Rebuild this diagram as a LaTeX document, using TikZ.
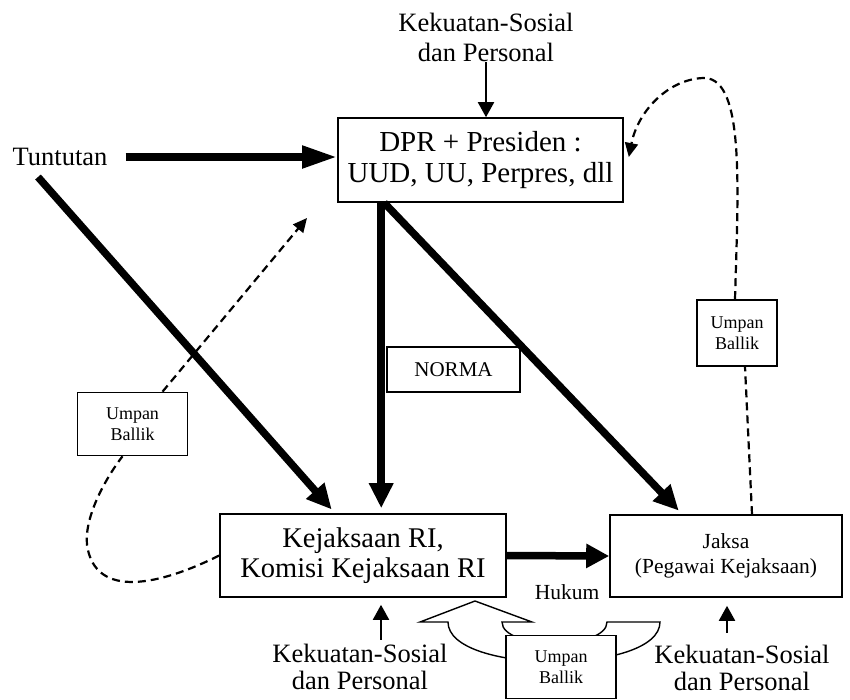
\documentclass[tikz,border=0pt]{standalone}
\usepackage{fontspec}
\setmainfont{Liberation Serif}
\usetikzlibrary{arrows.meta}

\begin{document}
\begin{tikzpicture}[x=1pt, y=-1pt,
    box/.style={draw, line width=1.6pt, fill=white, align=center, inner sep=0pt},
    lbl/.style={align=center, inner sep=0pt},
    bigarrow/.style={line width=7.5pt, -{Triangle[length=25pt, width=23pt]}},
    thinarrow/.style={line width=2pt, -{Triangle[length=15pt, width=16pt]}},
    feedback/.style={line width=2.2pt, dash pattern=on 8pt off 5pt},
    fbbox/.style={box, minimum width=110pt, minimum height=63pt, font=\fontsize{18}{21}\selectfont}]
    \useasboundingbox (0,0) rectangle (850,699);
    \node[lbl, font=\fontsize{26.5}{30}\selectfont] (kt) at (486,37) {Kekuatan-Sosial\\dan Personal};
    \node[box, minimum width=285pt, minimum height=84pt, font=\fontsize{29}{31}\selectfont] (dpr) at (480.5,160) {DPR + Presiden :\\UUD, UU, Perpres, dll};
    \node[lbl, font=\fontsize{26.5}{30}\selectfont] (tun) at (60,157) {Tuntutan};
    \node[box, minimum width=286pt, minimum height=83pt, font=\fontsize{28.5}{30}\selectfont] (kej) at (363,555.5) {Kejaksaan RI,\\Komisi Kejaksaan RI};
    \node[box, minimum width=232pt, minimum height=82pt, font=\fontsize{21.5}{25}\selectfont] (jak) at (726,556) {Jaksa\\(Pegawai Kejaksaan)};
    \node[box, minimum width=133pt, minimum height=45pt, font=\fontsize{21}{24}\selectfont] (norma) at (453.5,369.5) {NORMA};
    \node[fbbox] (ubl) at (132.5,424) {Umpan\\Ballik};
    \node[fbbox, minimum width=80pt, minimum height=66pt] (ubr) at (737,333) {Umpan\\Ballik};
    \node[lbl, font=\fontsize{21.5}{25}\selectfont] (hukum) at (567,592) {Hukum};
    \node[lbl, font=\fontsize{26.5}{27}\selectfont] (kbl) at (360,667) {Kekuatan-Sosial\\dan Personal};
    \node[lbl, font=\fontsize{26.5}{27}\selectfont] (kbr) at (742,668) {Kekuatan-Sosial\\dan Personal};
    \coordinate (tip) at (307,218);

    % thick arrows
    \draw[bigarrow, -{Triangle[length=35pt, width=21pt]}] ([xshift=18pt]tun.east) -- (tun.east -| dpr.west);
    \draw[bigarrow, shorten >=5pt] ([xshift=-22pt, yshift=-20pt]tun.center) -- ([xshift=-28pt]kej.north);
    \draw[bigarrow, shorten >=5pt] ([xshift=44pt]dpr.south west) -- ([xshift=162pt]kej.north west);
    \draw[bigarrow, shorten >=5pt] ([xshift=47pt]dpr.south west) -- ([xshift=73pt]jak.north west);
    \draw[bigarrow, -{Triangle[length=23pt, width=23pt]}] (kej.east) -- (jak.west);

    % thin arrows
    \draw[thinarrow, shorten >=7pt] ([xshift=21pt, yshift=4pt]kbl.north) -- ([xshift=21pt]kbl.north |- kej.south);
    \draw[thinarrow, shorten >=8pt] ([xshift=-15pt, yshift=12pt]kbr.north) -- ([xshift=-15pt]kbr.north |- jak.south);
    \draw[thinarrow] (kt.south) -- (kt.south |- dpr.north);

    % umpan balik
    \draw[feedback] (kej.west) .. controls (160,585) and (95,600) .. (87,545) .. controls (84,515) and (108,475) .. ([xshift=-10pt]ubl.south);
    \draw[feedback, -{Triangle[length=14pt, width=13pt]}] ([xshift=30pt]ubl.north) -- (tip);
    \draw[feedback] ([xshift=26pt]jak.north) -- ([xshift=8pt]ubr.south);
    \draw[feedback, -{Triangle[length=14pt, width=13pt]}] ([xshift=-2pt]ubr.north) .. controls (738,190) and (745,80) .. (705,78) .. controls (670,78) and (638,110) .. ([xshift=5pt, yshift=3pt]dpr.east);

    % curved block arrow under the boxes
    \draw[line width=1.4pt, fill=white] (475,601) -- (532,622) -- (502,622) .. controls (502,650) and (607,650) .. (607,622) -- (660,622) .. controls (660,675) and (448,675) .. (448,622) -- (420,622) -- cycle;
    \node[fbbox] (ubb) at (561,667) {Umpan\\Ballik};
\end{tikzpicture}
\end{document}
